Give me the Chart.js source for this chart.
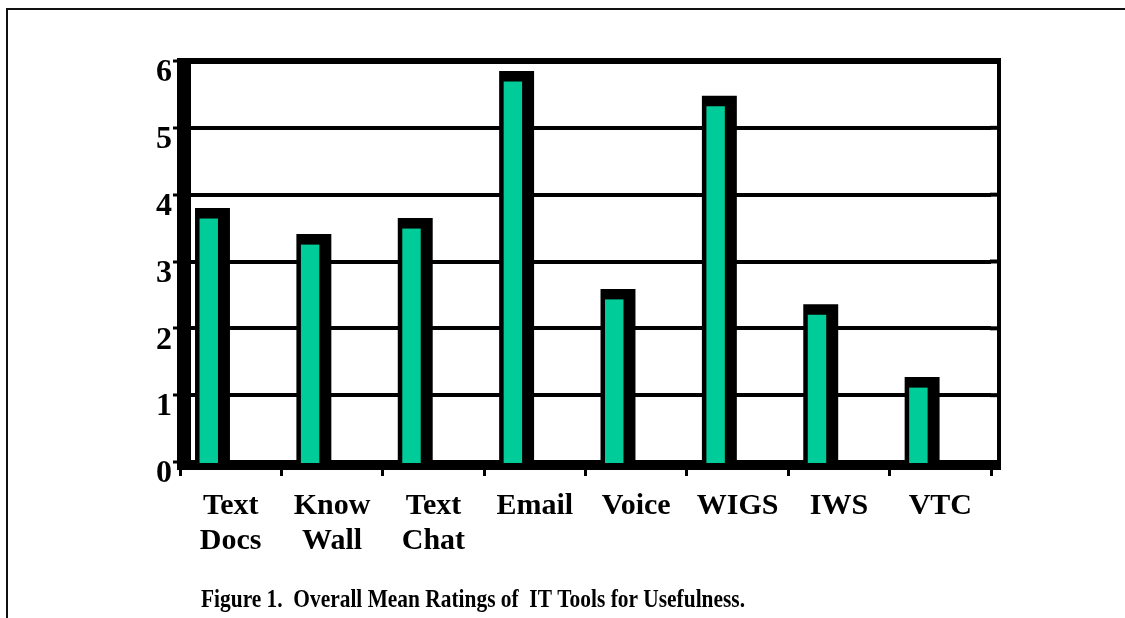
<!DOCTYPE html>
<html>
<head>
<meta charset="utf-8">
<script src="https://cdn.jsdelivr.net/npm/chart.js@4/dist/chart.umd.min.js"></script>
<style>
  html, body { margin: 0; padding: 0; background: #ffffff; }
  #wrap { width: 1125px; height: 618px; position: relative; }
</style>
</head>
<body>
<div id="wrap"><canvas id="c" width="1125" height="618"></canvas></div>
<script>
// ---- data ----
const categories = [["Text", "Docs"], ["Know", "Wall"], ["Text", "Chat"], "Email", "Voice", "WIGS", "IWS", "VTC"];
const meanRatings = [3.80, 3.41, 3.65, 5.85, 2.59, 5.48, 2.36, 1.27];
const spacerSlot = [null, null, null, null, null, null, null, null];
const yTickValues = [0, 1, 2, 3, 4, 5, 6];
const captionText = "Figure 1.  Overall Mean Ratings of  IT Tools for Usefulness.";

const FONT = "'Liberation Serif', 'Times New Roman', serif";
const GREEN = "#00CC99";

// frame, walls and floor of the old 3-D column chart
const wallsPlugin = {
  id: 'walls',
  beforeDraw(chart) {
    const ctx = chart.ctx;
    ctx.save();
    ctx.fillStyle = '#ffffff';
    ctx.fillRect(0, 0, chart.width, chart.height);
    ctx.fillStyle = '#111';
    ctx.fillRect(6, 8, 2, chart.height - 8);      // outer frame left
    ctx.fillRect(6, 8, chart.width - 6, 2);       // outer frame top
    ctx.restore();
  },
  beforeDatasetsDraw(chart) {
    const ctx = chart.ctx;
    const a = chart.chartArea;
    const y = chart.scales.y;
    ctx.save();
    ctx.fillStyle = '#000';
    // extend gridlines to back-right wall
    yTickValues.forEach(v => {
      const py = y.getPixelForValue(v);
      ctx.fillRect(a.right - 1, py - 2, 1001 - a.right, 4);
    });
    ctx.fillRect(a.left + 4, a.top - 3, 1001 - a.left - 4, 6);   // top edge of back wall
    ctx.fillRect(997, a.top - 2, 4, a.bottom - a.top + 10);      // right edge
    ctx.fillRect(a.left - 3, a.top - 3, 14, a.bottom - a.top + 11); // left wall
    ctx.fillRect(a.left - 3, a.bottom - 2, 1004 - a.left, 10);   // floor
    ctx.restore();
  },
  afterDatasetsDraw(chart) {
    const ctx = chart.ctx;
    const meta = chart.getDatasetMeta(0);
    ctx.save();
    ctx.fillStyle = GREEN;
    meta.data.forEach(el => {
      const p = el.getProps(['x', 'y', 'base', 'width'], true);
      const left = p.x - p.width / 2;
      const top = p.y + 10.5;
      ctx.fillRect(left + 4.5, top, p.width - 16.5, p.base + 3 - top);
    });
    ctx.restore();
  },
  afterDraw(chart) {
    const ctx = chart.ctx;
    ctx.save();
    ctx.fillStyle = '#000';
    ctx.font = "bold 24.5px " + FONT;
    ctx.textBaseline = 'alphabetic';
    ctx.textAlign = 'left';
    const w = ctx.measureText(captionText).width;
    const sx = 544 / w;
    ctx.translate(201, 607);
    ctx.scale(sx, 1);
    ctx.fillText(captionText, 0, 0);
    ctx.restore();
  }
};

new Chart(document.getElementById('c'), {
  type: 'bar',
  data: {
    labels: categories,
    datasets: [
      {
        label: 'Overall mean rating',
        data: meanRatings,
        backgroundColor: '#000',
        borderWidth: 0,
        categoryPercentage: 0.718,
        barPercentage: 0.96
      },
      {
        label: '',
        data: spacerSlot,
        backgroundColor: 'rgba(0,0,0,0)',
        categoryPercentage: 0.718,
        barPercentage: 0.96
      }
    ]
  },
  options: {
    responsive: false,
    animation: false,
    events: [],
    layout: { padding: { top: 61, right: 134, left: 0, bottom: 0 } },
    plugins: {
      legend: { display: false },
      tooltip: { enabled: false },
      title: { display: false }
    },
    scales: {
      x: {
        offset: true,
        grid: {
          offset: true,
          drawOnChartArea: false,
          drawTicks: true,
          tickLength: 14,
          tickWidth: 3,
          tickColor: '#000'
        },
        border: { display: false },
        ticks: {
          color: '#000',
          font: { family: FONT, size: 30, weight: 'bold', lineHeight: 35 / 30 },
          padding: 13,
          maxRotation: 0,
          minRotation: 0,
          autoSkip: false
        },
        afterFit(scale) { scale.height = 156; }
      },
      y: {
        min: 0,
        max: 6,
        afterBuildTicks(scale) { scale.ticks = yTickValues.map(v => ({ value: v })); },
        grid: {
          color: '#000',
          lineWidth: 4,
          drawTicks: true,
          tickLength: 7,
          tickWidth: 3,
          tickColor: '#000'
        },
        border: { display: false },
        ticks: {
          color: '#000',
          font: { family: FONT, size: 32, weight: 'bold' },
          padding: 1,
          labelOffset: 12
        },
        afterFit(scale) { scale.width = 180; }
      }
    }
  },
  plugins: [wallsPlugin]
});
</script>
</body>
</html>
